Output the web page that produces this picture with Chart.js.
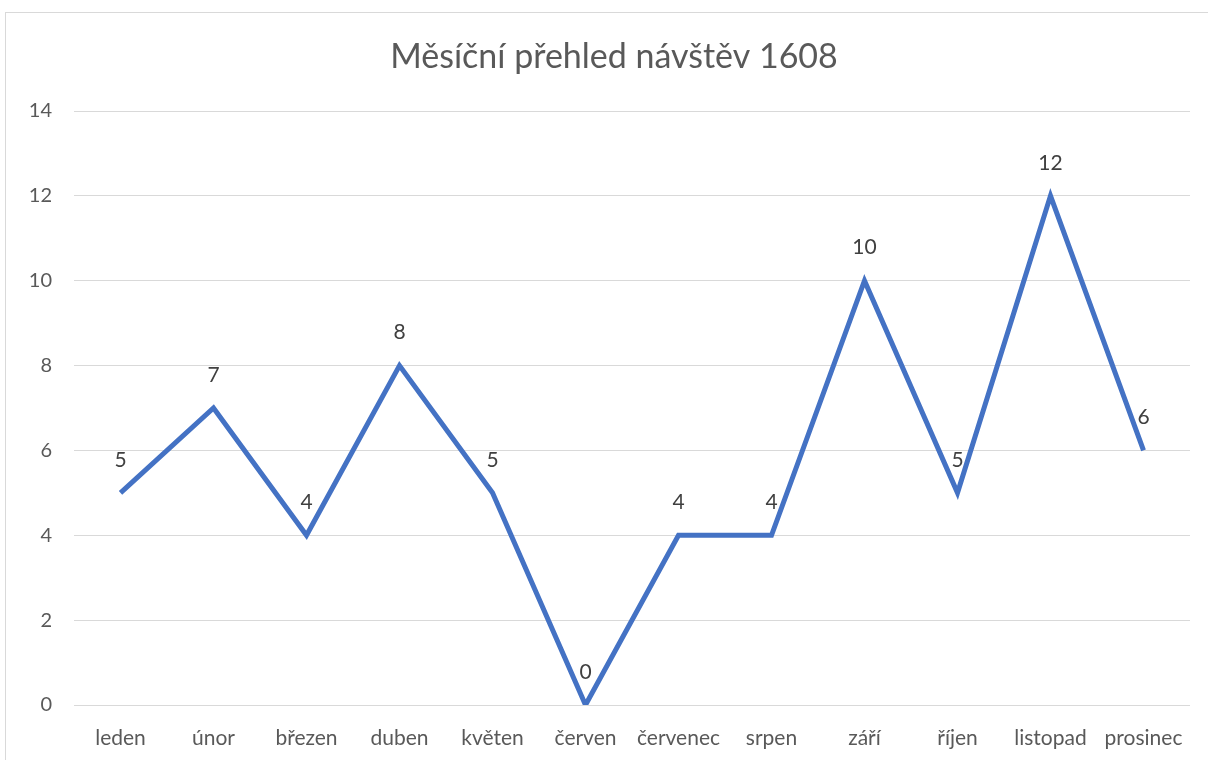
<!DOCTYPE html>
<html>
<head>
<meta charset="utf-8">
<script src="https://cdn.jsdelivr.net/npm/chart.js@4.4.1/dist/chart.umd.min.js"></script>
<style>
  html, body { margin: 0; padding: 0; background: #fff; overflow: hidden; }
  #frame { position: absolute; left: 5px; top: 12px; width: 1240px; height: 800px; border: 1px solid #d9d9d9; }
  #wrap { position: absolute; left: 0; top: 0; width: 1208px; height: 760px; }
</style>
</head>
<body>
<div id="frame"></div>
<div id="wrap"><canvas id="chart"></canvas></div>
<script>
// data
const chartTitle = "Měsíční přehled návštěv 1608";
const months = ["leden", "únor", "březen", "duben", "květen", "červen",
  "červenec", "srpen", "září", "říjen", "listopad", "prosinec"];
const visits = [5, 7, 4, 8, 5, 0, 4, 4, 10, 5, 12, 6];
const yTicks = [0, 2, 4, 6, 8, 10, 12, 14];

const fontFamily = "Lato, 'Open Sans', sans-serif";

// value labels above each point, plus the title (the chart frame is wider
// than the window, so its centre sits right of the canvas centre)
const chartTexts = {
  id: "chartTexts",
  afterDatasetsDraw(chart) {
    const ctx = chart.ctx;
    const meta = chart.getDatasetMeta(0);
    ctx.save();
    ctx.textAlign = "center";
    ctx.textBaseline = "middle";
    ctx.font = "21px " + fontFamily;
    ctx.fillStyle = "#404040";
    meta.data.forEach((pt, i) => {
      ctx.fillText(String(visits[i]), pt.x, pt.y - 33);
    });
    ctx.font = "34px " + fontFamily;
    ctx.fillStyle = "#595959";
    ctx.fillText(chartTitle, (chart.chartArea.right + 38) / 2, chart.chartArea.top - 54);
    ctx.restore();
  },
};

new Chart(document.getElementById("chart"), {
  type: "line",
  data: {
    labels: months,
    datasets: [{
      label: chartTitle,
      data: visits,
      borderColor: "#4472c4",
      borderWidth: 5,
      pointRadius: 0,
      tension: 0,
      borderJoinStyle: "miter",
    }],
  },
  options: {
    responsive: true,
    maintainAspectRatio: false,
    animation: false,
    layout: { padding: { left: 0, right: 18, top: 111, bottom: 0 } },
    plugins: {
      legend: { display: false },
      tooltip: { enabled: false },
      title: { display: false },
    },
    scales: {
      x: {
        offset: true,
        grid: { display: false },
        border: { display: false },
        ticks: {
          color: "#595959",
          font: { family: fontFamily, size: 21 },
          padding: 13,
          maxRotation: 0,
          autoSkip: false,
        },
        afterFit(scale) { scale.height = 55; },
      },
      y: {
        min: 0,
        max: 14,
        grid: { color: "#d9d9d9", lineWidth: 1, drawTicks: false },
        border: { display: false },
        afterBuildTicks(scale) { scale.ticks = yTicks.map(v => ({ value: v })); },
        ticks: {
          color: "#595959",
          font: { family: fontFamily, size: 20 },
          padding: 22,
        },
        afterFit(scale) { scale.width = 74; },
      },
    },
  },
  plugins: [chartTexts],
});
</script>
</body>
</html>
